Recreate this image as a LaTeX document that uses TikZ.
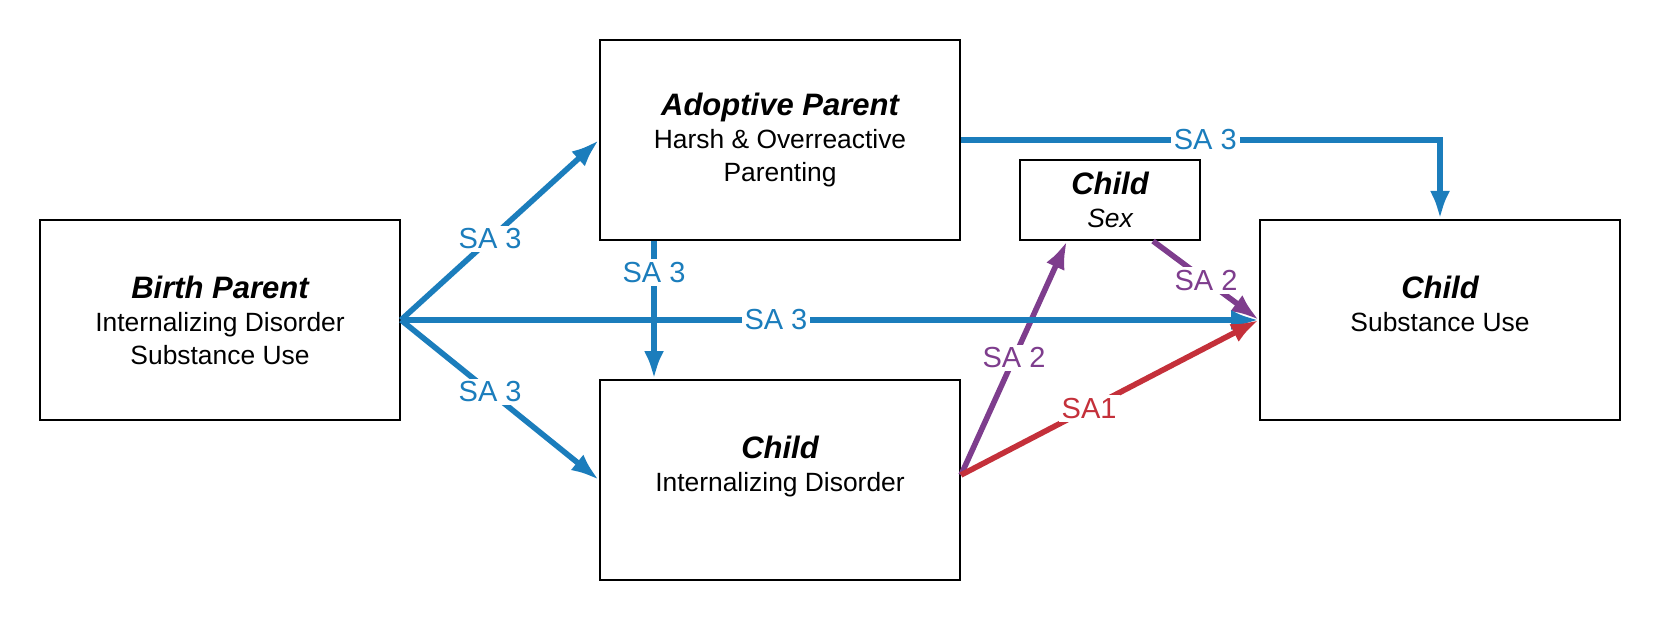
\documentclass[tikz,border=0pt]{standalone}
\usepackage{fontspec}
\setmainfont{Liberation Sans}
\usepackage{xcolor}
\usetikzlibrary{arrows.meta, positioning}
\definecolor{sablue}{RGB}{27,125,188}
\definecolor{sapurple}{RGB}{126,61,141}
\definecolor{sared}{RGB}{196,48,58}
\newcommand{\boxtitle}[1]{{\fontsize{15.5}{16.5}\selectfont\bfseries\itshape #1}}

\begin{document}
\begin{tikzpicture}[
    x=0.5pt, y=-0.5pt,
    box/.style={rectangle, draw=black, line width=1pt, minimum width=180pt, minimum height=100pt, align=center, font=\fontsize{13.2}{16.5}\selectfont},
    smallbox/.style={box, minimum width=90pt, minimum height=40pt},
    arrow/.style={-{Latex[length=14pt, width=10pt]}, line width=2.8pt},
    lbl/.style={fill=white, inner sep=1.5pt, font=\fontsize{14.5}{16}\selectfont}
]
    \useasboundingbox (0,0) rectangle (1660,620);

    % Boxes
    \node[box] (bp) at (220, 320) {\boxtitle{Birth Parent}\\Internalizing Disorder\\Substance Use};
    \node[box] (ap) at (780, 140) {\boxtitle{Adoptive Parent}\\Harsh \& Overreactive\\Parenting};
    \node[box] (cid) at (780, 480) {\boxtitle{Child}\\Internalizing Disorder\\\mbox{}};
    \node[smallbox] (sex) at (1110, 200) {\boxtitle{Child}\\\itshape Sex};
    \node[box] (csu) at (1440, 320) {\boxtitle{Child}\\Substance Use\\\mbox{}};

    % SA 3 paths
    \draw[arrow, sablue] (bp.east) -- (ap.west) node[lbl, pos=0.45] {SA 3};
    \draw[arrow, sablue] (bp.east) -- (cid.west) node[lbl, pos=0.45] {SA 3};
    \draw[arrow, sablue] ([xshift=27.5pt]ap.south west) -- ([xshift=27.5pt]cid.north west) node[lbl, pos=0.23] {SA 3};
    \draw[arrow, sablue] (ap.east) -| (csu.north) node[lbl, pos=0.255] {SA 3};

    % SA 2 paths
    \draw[arrow, sapurple] ([yshift=2.5pt]cid.east) -- ([xshift=-21.5pt]sex.south) node[lbl, pos=0.5] {SA 2};
    \draw[arrow, sapurple] ([xshift=21.5pt]sex.south) -- (csu.west) node[lbl, pos=0.5] {SA 2};

    % Direct path
    \draw[arrow, sablue] (bp.east) -- (csu.west) node[lbl, pos=0.437] {SA 3};

    % SA 1 path
    \draw[arrow, sared] ([yshift=2.5pt]cid.east) -- (csu.west) node[lbl, pos=0.43] {SA1};
\end{tikzpicture}
\end{document}
